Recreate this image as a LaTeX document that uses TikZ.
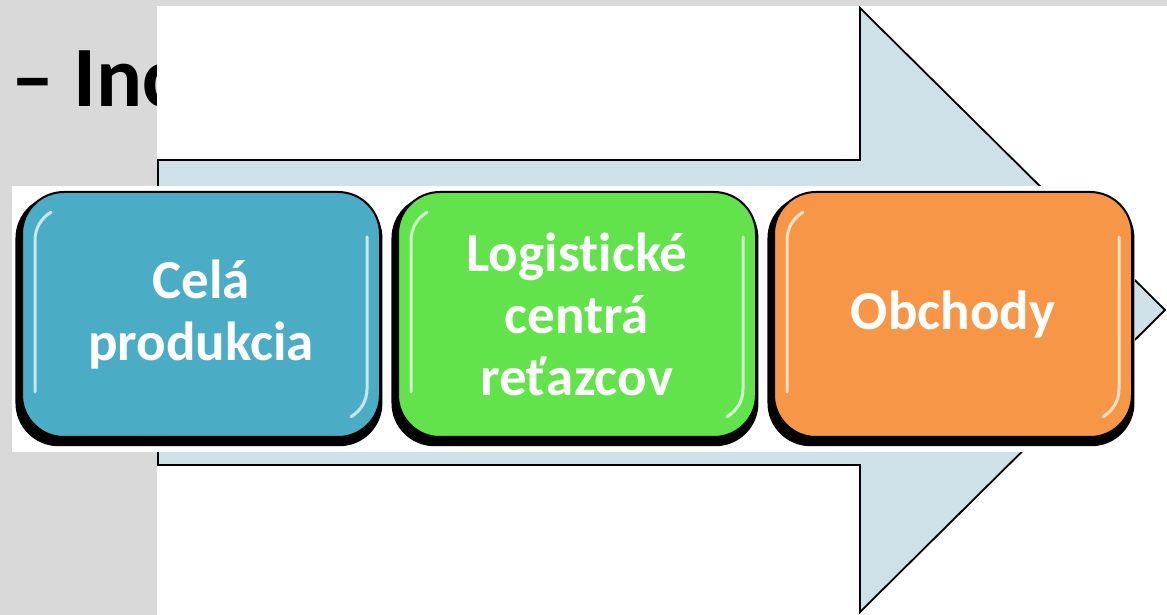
\documentclass[tikz,border=0pt]{standalone}
\usepackage{fontspec}
\setmainfont{Carlito}[Ligatures=NoCommon]
\usetikzlibrary{positioning,shadows}
\definecolor{pagegray}{HTML}{D9D9D9}
\definecolor{arrowblue}{HTML}{CFE1E8}
\definecolor{cellblue}{HTML}{4BACC6}
\definecolor{cellgreen}{HTML}{62E24B}
\definecolor{cellorange}{HTML}{F79646}
\begin{document}
\begin{tikzpicture}[x=1pt,y=1pt,
    stage/.style={rounded corners=42pt, draw=black, line width=2pt,
      minimum width=358pt, minimum height=245pt, inner sep=0pt,
      align=center, text=white, font=\fontsize{55}{62}\selectfont\bfseries,
      drop shadow={shadow xshift=-2pt, shadow yshift=-6pt, shadow scale=1.025,
        fill=black, opacity=1},
      path picture={
        \draw[sharp corners, white, opacity=.7, line width=3pt, line cap=round]
          ([xshift=13pt,yshift=45pt]path picture bounding box.south west)
          -- ([xshift=13pt,yshift=-48pt]path picture bounding box.north west)
          arc[start angle=180, end angle=120, radius=32pt];
        \draw[sharp corners, white, opacity=.7, line width=3pt, line cap=round]
          ([xshift=-13pt,yshift=-45pt]path picture bounding box.north east)
          -- ([xshift=-13pt,yshift=48pt]path picture bounding box.south east)
          arc[start angle=0, end angle=-60, radius=32pt];
      }},
  ]
  \useasboundingbox (0,0) rectangle (1167,615);
  \fill[pagegray] (0,0) rectangle (1167,615);
  \node[anchor=base west, inner sep=0pt, font=\fontsize{86}{90}\selectfont\bfseries] (title) at (11,508) {– Inc};
  \fill[white] (157,0) rectangle (1167,609);

  \draw[fill=arrowblue, line width=1.8pt] (158,150) -- (860,150) -- (860,3) -- (1165,305)
    -- (860,607) -- (860,455) -- (158,455) -- cycle;
  \fill[white] (12,163) rectangle (1135,429);

  \node[stage, fill=cellblue] (prod) at (201,300.5) {Celá\\produkcia};
  \node[stage, fill=cellgreen, right=16pt of prod] (hubs) {Logistické\\centrá\\reťazcov};
  \node[stage, fill=cellorange, right=16pt of hubs] (shops) {Obchody};
\end{tikzpicture}
\end{document}
